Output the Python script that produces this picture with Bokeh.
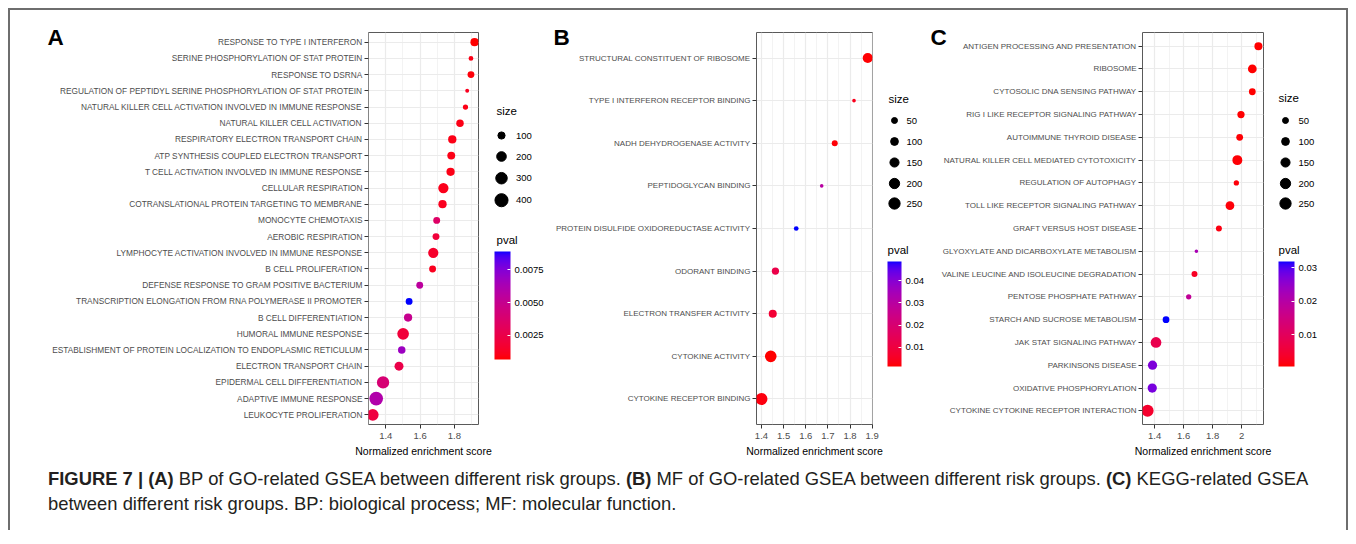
import math
from bokeh.plotting import figure
from bokeh.models import (FactorRange, Range1d, FixedTicker, LinearColorMapper, ColorBar,
                          PrintfTickFormatter, Div, ColumnDataSource)
from bokeh.layouts import row, column
from bokeh.embed import file_html
from bokeh.resources import INLINE
from bokeh.core.properties import value

# ---------------- data ----------------
a_terms = [
    "RESPONSE TO TYPE I INTERFERON",
    "SERINE PHOSPHORYLATION OF STAT PROTEIN",
    "RESPONSE TO DSRNA",
    "REGULATION OF PEPTIDYL SERINE PHOSPHORYLATION OF STAT PROTEIN",
    "NATURAL KILLER CELL ACTIVATION INVOLVED IN IMMUNE RESPONSE",
    "NATURAL KILLER CELL ACTIVATION",
    "RESPIRATORY ELECTRON TRANSPORT CHAIN",
    "ATP SYNTHESIS COUPLED ELECTRON TRANSPORT",
    "T CELL ACTIVATION INVOLVED IN IMMUNE RESPONSE",
    "CELLULAR RESPIRATION",
    "COTRANSLATIONAL PROTEIN TARGETING TO MEMBRANE",
    "MONOCYTE CHEMOTAXIS",
    "AEROBIC RESPIRATION",
    "LYMPHOCYTE ACTIVATION INVOLVED IN IMMUNE RESPONSE",
    "B CELL PROLIFERATION",
    "DEFENSE RESPONSE TO GRAM POSITIVE BACTERIUM",
    "TRANSCRIPTION ELONGATION FROM RNA POLYMERASE II PROMOTER",
    "B CELL DIFFERENTIATION",
    "HUMORAL IMMUNE RESPONSE",
    "ESTABLISHMENT OF PROTEIN LOCALIZATION TO ENDOPLASMIC RETICULUM",
    "ELECTRON TRANSPORT CHAIN",
    "EPIDERMAL CELL DIFFERENTIATION",
    "ADAPTIVE IMMUNE RESPONSE",
    "LEUKOCYTE PROLIFERATION",
]
a_nes = [1.918, 1.897, 1.897, 1.875, 1.865, 1.833, 1.788, 1.782, 1.778, 1.736, 1.731, 1.697,
         1.693, 1.677, 1.673, 1.598, 1.536, 1.530, 1.501, 1.493, 1.477, 1.384, 1.344, 1.324]
a_size = [140, 35, 90, 20, 45, 110, 140, 125, 140, 230, 140, 90,
          90, 230, 90, 90, 90, 140, 310, 110, 170, 350, 440, 310]
a_pval = [0.00066, 0.0010, 0.0008, 0.0012, 0.0010, 0.0010, 0.0010, 0.0010, 0.0010, 0.0011, 0.0012, 0.0035,
          0.0020, 0.0015, 0.0012, 0.0055, 0.0089, 0.0050, 0.0020, 0.0068, 0.0025, 0.0040, 0.0060, 0.0022]
a_size_breaks = [100, 200, 300, 400]
a_pval_ticks = [0.0025, 0.0050, 0.0075]
a_x_ticks = [1.4, 1.6, 1.8]
a_x_minor = [1.3, 1.5, 1.7, 1.9]

b_terms = [
    "STRUCTURAL CONSTITUENT OF RIBOSOME",
    "TYPE I INTERFERON RECEPTOR BINDING",
    "NADH DEHYDROGENASE ACTIVITY",
    "PEPTIDOGLYCAN BINDING",
    "PROTEIN DISULFIDE OXIDOREDUCTASE ACTIVITY",
    "ODORANT BINDING",
    "ELECTRON TRANSFER ACTIVITY",
    "CYTOKINE ACTIVITY",
    "CYTOKINE RECEPTOR BINDING",
]
b_nes = [1.880, 1.818, 1.731, 1.672, 1.557, 1.463, 1.451, 1.442, 1.400]
b_size = [190, 10, 50, 10, 25, 85, 110, 270, 290]
b_pval = [0.0015, 0.0040, 0.0020, 0.0300, 0.0487, 0.0120, 0.0080, 0.0013, 0.0025]
b_size_breaks = [50, 100, 150, 200, 250]
b_pval_ticks = [0.01, 0.02, 0.03, 0.04]
b_x_ticks = [1.4, 1.5, 1.6, 1.7, 1.8, 1.9]
b_x_minor = [1.45, 1.55, 1.65, 1.75, 1.85]

c_terms = [
    "ANTIGEN PROCESSING AND PRESENTATION",
    "RIBOSOME",
    "CYTOSOLIC DNA SENSING PATHWAY",
    "RIG I LIKE RECEPTOR SIGNALING PATHWAY",
    "AUTOIMMUNE THYROID DISEASE",
    "NATURAL KILLER CELL MEDIATED CYTOTOXICITY",
    "REGULATION OF AUTOPHAGY",
    "TOLL LIKE RECEPTOR SIGNALING PATHWAY",
    "GRAFT VERSUS HOST DISEASE",
    "GLYOXYLATE AND DICARBOXYLATE METABOLISM",
    "VALINE LEUCINE AND ISOLEUCINE DEGRADATION",
    "PENTOSE PHOSPHATE PATHWAY",
    "STARCH AND SUCROSE METABOLISM",
    "JAK STAT SIGNALING PATHWAY",
    "PARKINSONS DISEASE",
    "OXIDATIVE PHOSPHORYLATION",
    "CYTOKINE CYTOKINE RECEPTOR INTERACTION",
]
c_nes = [2.115, 2.073, 2.073, 1.995, 1.986, 1.970, 1.963, 1.919, 1.843,
         1.688, 1.675, 1.635, 1.479, 1.410, 1.386, 1.384, 1.352]
c_size = [110, 135, 70, 85, 70, 185, 35, 135, 50, 10, 50, 35, 70, 220, 155, 155, 290]
c_pval = [0.0005, 0.0006, 0.0006, 0.0007, 0.0008, 0.0008, 0.0010, 0.0010, 0.0015,
          0.0220, 0.0030, 0.0180, 0.0318, 0.0080, 0.0270, 0.0275, 0.0040]
c_size_breaks = [50, 100, 150, 200, 250]
c_pval_ticks = [0.01, 0.02, 0.03]
c_x_ticks = [1.4, 1.6, 1.8, 2.0]
c_x_minor = [1.3, 1.5, 1.7, 1.9, 2.1]

panel_letters = ["A", "B", "C"]

caption_html = ("<b>FIGURE 7 | (A)</b> BP of GO-related GSEA between different risk groups. "
                "<b>(B)</b> MF of GO-related GSEA between different risk groups. "
                "<b>(C)</b> KEGG-related GSEA<br>between different risk groups. BP: biological process; "
                "MF: molecular function.")


# ---------------- colour gradient (Lab interpolation, red -> blue) ----------------
def hex_to_lab(h):
    r, g, b = [int(h[i:i + 2], 16) / 255 for i in (1, 3, 5)]
    lin = lambda c: c / 12.92 if c <= 0.04045 else ((c + 0.055) / 1.055) ** 2.4
    r, g, b = lin(r), lin(g), lin(b)
    X = (0.4124564 * r + 0.3575761 * g + 0.1804375 * b) / 0.95047
    Y = 0.2126729 * r + 0.7151522 * g + 0.0721750 * b
    Z = (0.0193339 * r + 0.1191920 * g + 0.9503041 * b) / 1.08883
    f = lambda t: t ** (1 / 3) if t > 216 / 24389 else (24389 / 27 * t + 16) / 116
    fx, fy, fz = f(X), f(Y), f(Z)
    return 116 * fy - 16, 500 * (fx - fy), 200 * (fy - fz)


def lab_to_hex(L, a, b):
    fy = (L + 16) / 116
    fx = fy + a / 500
    fz = fy - b / 200
    finv = lambda t: t ** 3 if t ** 3 > 216 / 24389 else (116 * t - 16) / (24389 / 27)
    X, Y, Z = finv(fx) * 0.95047, finv(fy), finv(fz) * 1.08883
    r = 3.2404542 * X - 1.5371385 * Y - 0.4985314 * Z
    g = -0.9692660 * X + 1.8760108 * Y + 0.0415560 * Z
    bb = 0.0556434 * X - 0.2040259 * Y + 1.0572252 * Z

    def gam(c):
        c = max(0.0, min(1.0, c))
        return 12.92 * c if c <= 0.0031308 else 1.055 * c ** (1 / 2.4) - 0.055
    return "#%02x%02x%02x" % tuple(int(round(gam(c) * 255)) for c in (r, g, bb))


lo, hi = hex_to_lab("#FF0000"), hex_to_lab("#0000FF")
palette = [lab_to_hex(*[lo[k] + (hi[k] - lo[k]) * i / 255 for k in range(3)]) for i in range(256)]

FONT = "Liberation Sans"
FIG_H = 460
TOP = 22
BOTTOM = 46
FRAME_BOTTOM = FIG_H - BOTTOM   # 414 (local px)


def no_frame_align(fig):
    if "frame_align" in fig.properties():
        fig.frame_align = False


def letter_fig(letter, x_local, margin_left):
    lf = figure(width=30, height=FIG_H, output_backend="svg", toolbar_location=None,
                x_range=Range1d(0, 30), y_range=Range1d(FIG_H, 0),
                x_axis_type=None, y_axis_type=None, min_border=0, margin=(0, 0, 0, margin_left))
    no_frame_align(lf)
    lf.grid.visible = False
    lf.outline_line_color = None
    lf.border_fill_color = None
    lf.background_fill_color = None
    lf.text(x=[x_local], y=[26.5], text=[letter], text_font=value("Liberation Sans"),
            text_font_style="bold", text_font_size="22.5px", text_color="black",
            text_baseline="alphabetic")
    return lf


def panel(terms, nes, sizes, pvals, xr, xt, xm, width, left, frame_w, sa, sb, label_px, margin_left):
    mapper = LinearColorMapper(palette=palette, low=min(pvals), high=max(pvals))
    factors = list(reversed(terms))
    p = figure(width=width, height=FIG_H, output_backend="svg", toolbar_location=None,
               x_range=Range1d(*xr),
               y_range=FactorRange(factors=factors, range_padding=0.1, range_padding_units="absolute"),
               min_border_left=left, min_border_right=width - left - frame_w, min_border_top=TOP,
               min_border_bottom=BOTTOM, margin=(0, 0, 0, margin_left))
    src = ColumnDataSource(dict(term=terms, nes=nes, size=sizes, pval=pvals,
                                d=[sa + sb * math.sqrt(s) for s in sizes]))
    p.scatter(x="nes", y="term", size="d", source=src, line_color=None,
              fill_color={"field": "pval", "transform": mapper})
    p.outline_line_color = "#5a5a5a"
    p.outline_line_width = 1
    p.background_fill_color = "white"
    p.border_fill_color = None
    p.xaxis.ticker = FixedTicker(ticks=xt, minor_ticks=xm)
    p.xgrid.grid_line_color = "#ebebeb"
    p.xgrid.grid_line_width = 1.2
    p.xgrid.minor_grid_line_color = "#ebebeb"
    p.xgrid.minor_grid_line_width = 0.6
    p.ygrid.grid_line_color = "#ebebeb"
    p.ygrid.grid_line_width = 1.2
    for ax in (p.xaxis[0], p.yaxis[0]):
        ax.axis_line_color = None
        ax.major_tick_line_color = "#333333"
        ax.major_tick_in = 0
        ax.major_tick_out = 4
        ax.minor_tick_line_color = None
        ax.major_label_text_color = "#4d4d4d"
        ax.major_label_text_font = FONT
    p.yaxis.major_label_text_font_size = label_px
    p.yaxis.major_label_standoff = 2
    p.xaxis.major_label_text_font_size = "9.5px"
    p.xaxis.major_label_standoff = 4
    p.xaxis.axis_label = "Normalized enrichment score"
    p.xaxis.axis_label_text_font = FONT
    p.xaxis.axis_label_text_font_style = "normal"
    p.xaxis.axis_label_text_font_size = "10.5px"
    p.xaxis.axis_label_text_color = "black"
    p.xaxis.axis_label_standoff = 3
    return p, mapper


def legend(width, overlap, breaks, sa, sb, mapper, fmt, ticks, size_title_xy, circ_x, lab_x, rows,
           pval_title_xy, bar_x, bar_top, bar_h, bar_w):
    lf = figure(width=width, height=FIG_H, output_backend="svg", toolbar_location=None,
                x_range=Range1d(0, width), y_range=Range1d(FRAME_BOTTOM, TOP),
                x_axis_type=None, y_axis_type=None, min_border_left=0, min_border_right=0,
                min_border_top=TOP, min_border_bottom=BOTTOM, margin=(0, 0, 0, -overlap))
    lf.grid.visible = False
    lf.outline_line_color = None
    lf.border_fill_color = None
    lf.background_fill_color = None
    lf.scatter(x=[circ_x] * len(breaks), y=rows, size=[sa + sb * math.sqrt(v) for v in breaks],
               color="black")
    lf.text(x=[lab_x] * len(breaks), y=rows, text=[str(v) for v in breaks],
            text_font=value(FONT), text_font_size="9.5px", text_baseline="middle",
            text_color="black")
    lf.text(x=[size_title_xy[0], pval_title_xy[0]], y=[size_title_xy[1], pval_title_xy[1]],
            text=["size", "pval"], text_font=value(FONT), text_font_size="11.5px",
            text_baseline="middle", text_color="black")
    cb = ColorBar(color_mapper=mapper, width=bar_w, height=bar_h, padding=0,
                  location=(bar_x, FRAME_BOTTOM - (bar_top + bar_h)),
                  ticker=FixedTicker(ticks=ticks), formatter=PrintfTickFormatter(format=fmt),
                  major_label_text_font=FONT, major_label_text_font_size="9.5px",
                  major_label_text_color="black", label_standoff=4,
                  major_tick_line_color="white", major_tick_in=3, major_tick_out=0,
                  minor_tick_line_color=None, bar_line_color=None,
                  background_fill_color=None, border_line_color=None)
    lf.add_layout(cb, "center")
    return lf


# row starts at page x = 10, y = 10; local coords = page - (element left, 10)
letA = letter_fig(panel_letters[0], 7, 30)                         # page 40 -> 70
figA, mA = panel(a_terms, a_nes, a_size, a_pval, (1.299, 1.941), a_x_ticks, a_x_minor,
                 490, 358, 110, 1.3, 0.59, "8.3px", -60)          # page 10 -> 500
legA = legend(66, 14, a_size_breaks, 1.3, 0.59, mA, "%.4f", a_pval_ticks, (10, 100), 15, 29.5,
              [125, 146, 167.7, 189.7], (10, 229), 8, 241, 108, 16)   # page 486 -> 552
letB = letter_fig(panel_letters[1], 1, 0)                          # page 552 -> 582
figB, mB = panel(b_terms, b_nes, b_size, b_pval, (1.3776, 1.9015), b_x_ticks, b_x_minor,
                 348, 203, 117, 1.71, 0.606, "8px", -30)          # page 552 -> 900
legB = legend(45, 20, b_size_breaks, 1.71, 0.606, mB, "%.2f", b_pval_ticks, (8, 88), 14, 26,
              [110, 131, 152, 173, 193], (7, 239), 7, 251, 105, 14)  # page 880 -> 925
letC = letter_fig(panel_letters[2], 5, 0)                          # page 925 -> 955
figC, mC = panel(c_terms, c_nes, c_size, c_pval, (1.317, 2.150), c_x_ticks, c_x_minor,
                 365, 217, 121, 1.71, 0.606, "8px", -30)          # page 925 -> 1290
legC = legend(72, 20, c_size_breaks, 1.71, 0.606, mC, "%.2f", c_pval_ticks, (8, 87), 15, 28,
              [110, 131, 152, 173, 193], (8, 239), 8, 251, 105, 16)  # page 1270 -> 1342

caption = Div(text=caption_html, width=1300, height=64, margin=(-4, 0, 0, 38),
              styles={"font-family": "Liberation Sans, Arial, sans-serif", "font-size": "18.4px",
                      "color": "#231f20", "line-height": "25px", "white-space": "nowrap"})

top_row = row(letA, figA, legA, letB, figB, legB, letC, figC, legC, spacing=0)
page = column(top_row, caption, spacing=0,
              styles={"border-top": "2px solid #6e6e6e", "border-left": "2px solid #6e6e6e",
                      "border-right": "2px solid #6e6e6e", "margin-left": "8px",
                      "margin-top": "8px", "width": "1340px"})

open("out.html", "w").write(file_html(page, INLINE))
